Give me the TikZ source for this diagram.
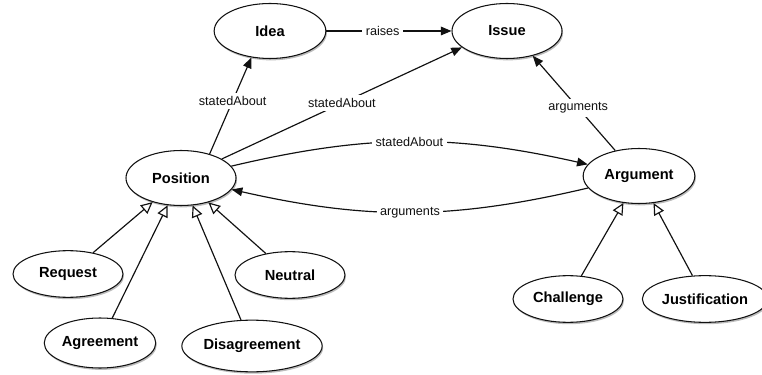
\documentclass[tikz,border=0pt]{standalone}
\usepackage{fontspec}
\setmainfont{Liberation Sans}
\usepackage{tikz}
\usepackage{xcolor}
\usetikzlibrary{arrows.meta,shapes.geometric,shadows}
\definecolor{ink}{HTML}{111111}
\definecolor{shade}{HTML}{6A6A6A}
\tikzset{
  concept/.style={ellipse,draw=ink,fill=white,line width=0.9pt,
                  minimum width=3.3cm,minimum height=1.65cm,inner sep=1pt,
                  font=\bfseries\fontsize{12.5}{14}\selectfont,
                  drop shadow={shadow xshift=0.9pt,shadow yshift=-1.6pt,
                               opacity=0.45,fill=shade}},
  subconcept/.style={concept,minimum height=1.4cm},
  relarr/.style={-{Triangle[length=3.2mm,width=2.6mm]},line width=1pt,draw=ink},
  isaarr/.style={-{Triangle[length=3.5mm,width=3.3mm,fill=white]},line width=1pt,draw=ink},
  rellabel/.style={fill=white,inner sep=3pt,text=ink,font=\fontsize{10.8}{12}\selectfont}
}

\begin{document}
\begin{tikzpicture}[x=0.03cm,y=-0.03cm]
  \useasboundingbox (0,0) rectangle (762,375);
  % top row
  \node[concept,minimum width=3.35cm] (idea) at (270,31) {Idea};
  \node[concept] (issue) at (507,31) {Issue};
  % middle row
  \node[concept] (position) at (181,178) {Position};
  \node[concept,minimum width=3.35cm] (argument) at (639,176) {Argument};
  % kinds of position
  \node[subconcept] (request) at (68,274) {Request};
  \node[subconcept] (neutral) at (290,275) {Neutral};
  \node[subconcept,minimum width=3.1cm,minimum height=1.5cm] (agreement) at (100,343) {Agreement};
  \node[subconcept,minimum width=4.1cm,minimum height=1.55cm] (disagreement) at (252,346) {Disagreement};
  % kinds of argument
  \node[subconcept] (challenge) at (568,299) {Challenge};
  \node[subconcept,minimum width=3.4cm] (justification) at (705,299) {Justification};

  % relations
  \draw[relarr] (idea) -- node[rellabel,pos=0.45] {raises} (issue);
  \draw[relarr] (position.40) -- node[rellabel,pos=0.55] {statedAbout} (idea.-125);
  \draw[relarr] (position.25) -- node[rellabel] {statedAbout} (issue.200);
  \draw[relarr] (argument.133) -- node[rellabel,pos=0.45] {arguments} (issue.-44);
  \draw[relarr] (position) to[bend left=13] node[rellabel] {statedAbout} (argument);
  \draw[relarr] (argument) to[bend left=13] node[rellabel] {arguments} (position);

  % generalisations
  \foreach \kind in {request,agreement,disagreement,neutral}
    \draw[isaarr] (\kind) -- (position);
  \foreach \kind in {challenge,justification}
    \draw[isaarr] (\kind) -- (argument);
\end{tikzpicture}
\end{document}
